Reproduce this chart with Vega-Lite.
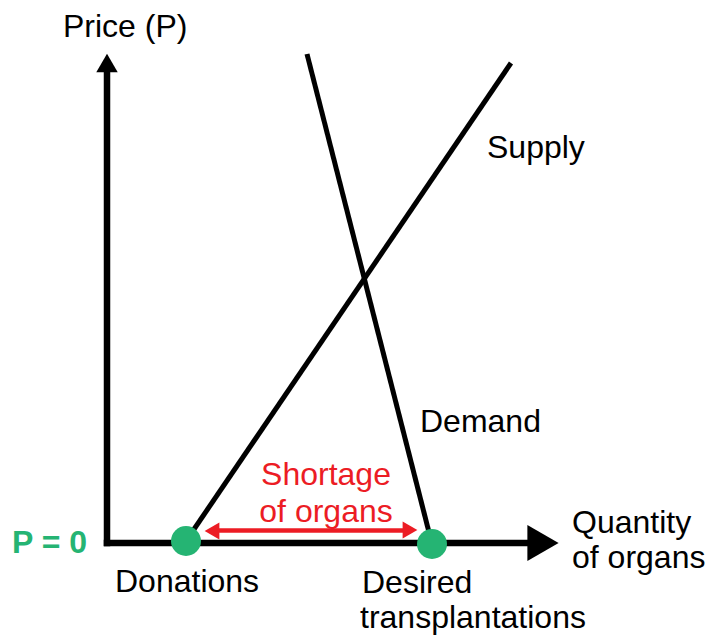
{
  "$schema": "https://vega.github.io/schema/vega-lite/v6.json",
  "width": 707,
  "height": 637,
  "autosize": {"type": "fit", "contains": "padding"},
  "padding": 0,
  "background": "white",
  "config": {"view": {"stroke": null}, "font": "Liberation Sans"},
  "datasets": {
    "axes": [
      {"q": 0, "p": 0, "q2": 0, "p2": 94.2},
      {"q": 0, "p": 0, "q2": 84.4, "p2": 0}
    ],
    "curves": [
      {"name": "Supply", "q": 15.8, "p": 0.4, "q2": 80.8, "p2": 96},
      {"name": "Demand", "q": 40, "p": 97.8, "q2": 65, "p2": -0.2}
    ],
    "axisHeadsUp": [{"q": 0, "p": 96}],
    "axisHeadsRight": [{"q": 87.2, "p": 0}],
    "shortage": [{"q": 22, "p": 2.5, "q2": 59.6}],
    "redHeadLeft": [{"q": 21, "p": 2.4}],
    "redHeadRight": [{"q": 60.6, "p": 2.6}],
    "dots": [
      {"name": "Donations", "q": 15.8, "p": 0.4},
      {"name": "Desired transplantations", "q": 65, "p": -0.2}
    ],
    "blackLabels": [
      {"q": -8.8, "p": 101.2, "text": "Price (P)"},
      {"q": 76, "p": 77, "text": "Supply"},
      {"q": 62.6, "p": 22.2, "text": "Demand"},
      {"q": 93, "p": 2, "text": "Quantity"},
      {"q": 93, "p": -5, "text": "of organs"},
      {"q": 1.6, "p": -9.8, "text": "Donations"},
      {"q": 51, "p": -10, "text": "Desired"},
      {"q": 50.6, "p": -17, "text": "transplantations"}
    ],
    "redLabels": [
      {"q": 43.8, "p": 11.6, "text": "Shortage"},
      {"q": 43.8, "p": 4.2, "text": "of organs"}
    ],
    "greenLabels": [
      {"q": -19, "p": -2, "text": "P = 0"}
    ]
  },
  "encoding": {
    "x": {"field": "q", "type": "quantitative", "axis": null,
          "scale": {"domain": [-21.4, 120], "nice": false, "zero": false}},
    "y": {"field": "p", "type": "quantitative", "axis": null,
          "scale": {"domain": [-18.8, 108.6], "nice": false, "zero": false}}
  },
  "layer": [
    {
      "data": {"name": "axes"},
      "mark": {"type": "rule", "color": "black", "strokeWidth": 6.5, "strokeCap": "square"},
      "encoding": {"x2": {"field": "q2"}, "y2": {"field": "p2"}}
    },
    {
      "data": {"name": "axisHeadsUp"},
      "mark": {"type": "point", "shape": "triangle-up", "filled": true, "color": "black", "opacity": 1, "size": 460}
    },
    {
      "data": {"name": "axisHeadsRight"},
      "mark": {"type": "point", "shape": "triangle-right", "filled": true, "color": "black", "opacity": 1, "size": 1300}
    },
    {
      "data": {"name": "curves"},
      "mark": {"type": "rule", "color": "black", "strokeWidth": 5},
      "encoding": {"x2": {"field": "q2"}, "y2": {"field": "p2"}}
    },
    {
      "data": {"name": "shortage"},
      "mark": {"type": "rule", "color": "#ec1c24", "strokeWidth": 4.5},
      "encoding": {"x2": {"field": "q2"}}
    },
    {
      "data": {"name": "redHeadLeft"},
      "mark": {"type": "point", "shape": "triangle-left", "filled": true, "color": "#ec1c24", "opacity": 1, "size": 289}
    },
    {
      "data": {"name": "redHeadRight"},
      "mark": {"type": "point", "shape": "triangle-right", "filled": true, "color": "#ec1c24", "opacity": 1, "size": 289}
    },
    {
      "data": {"name": "dots"},
      "mark": {"type": "point", "shape": "circle", "filled": true, "color": "#25b473", "opacity": 1, "size": 900}
    },
    {
      "data": {"name": "blackLabels"},
      "mark": {"type": "text", "align": "left", "baseline": "alphabetic", "fontSize": 32, "color": "black"},
      "encoding": {"text": {"field": "text"}}
    },
    {
      "data": {"name": "redLabels"},
      "mark": {"type": "text", "align": "center", "baseline": "alphabetic", "fontSize": 32, "color": "#ec1c24"},
      "encoding": {"text": {"field": "text"}}
    },
    {
      "data": {"name": "greenLabels"},
      "mark": {"type": "text", "align": "left", "baseline": "alphabetic", "fontSize": 32, "fontWeight": "bold", "color": "#25b473"},
      "encoding": {"text": {"field": "text"}}
    }
  ]
}
